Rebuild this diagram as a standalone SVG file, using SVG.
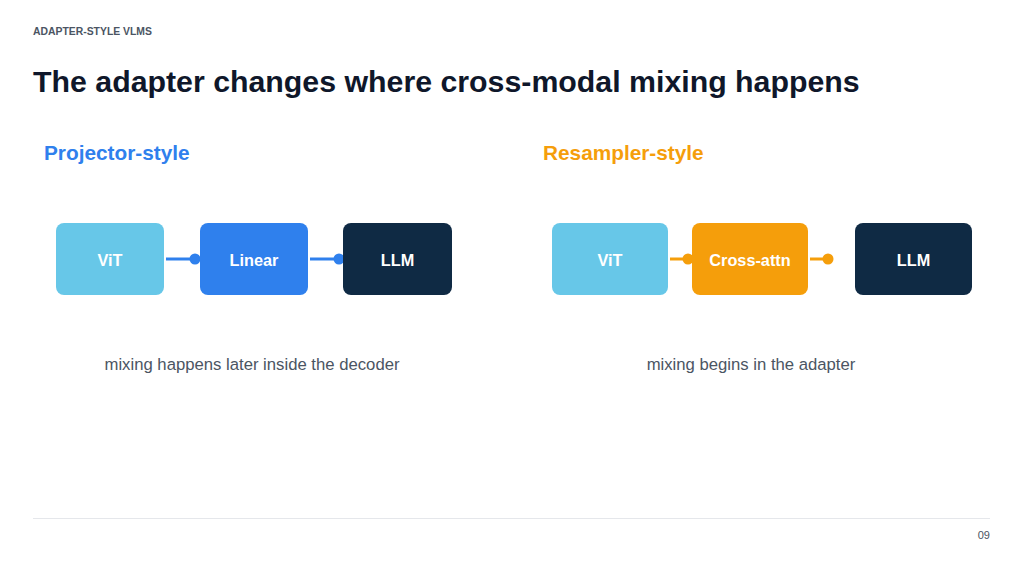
<svg xmlns="http://www.w3.org/2000/svg" width="1024" height="575" viewBox="0 0 1024 575">
<style>
text{font-family:"Liberation Sans",Arial,sans-serif}
.lbl{font-size:16.3px;font-weight:bold;fill:#fff;text-anchor:middle}
.cap{font-size:16.7px;fill:#4b5563;text-anchor:middle}
.vit{fill:#67c7e8}
.llm{fill:#0f2a44}
.cb{stroke:#2f80ed;stroke-width:3}
.co{stroke:#f59e0b;stroke-width:3}
</style>
<rect width="1024" height="575" fill="#fff"/>
<text x="33" y="35" font-size="10.4" font-weight="bold" fill="#4b5563">ADAPTER-STYLE VLMS</text>
<text x="33" y="92" font-size="30.3" font-weight="bold" fill="#0f172a">The adapter changes where cross-modal mixing happens</text>
<text x="44" y="160" font-size="20.8" font-weight="bold" fill="#2f80ed">Projector-style</text>
<text x="543" y="160" font-size="20.8" font-weight="bold" fill="#f59e0b">Resampler-style</text>
<g id="connectors">
<line class="cb" x1="166" y1="259" x2="195" y2="259"/>
<circle cx="195" cy="259" r="5.5" fill="#2f80ed"/>
<line class="cb" x1="310" y1="259" x2="339" y2="259"/>
<circle cx="339" cy="259" r="5.5" fill="#2f80ed"/>
<line class="co" x1="670" y1="259" x2="688" y2="259"/>
<circle cx="688" cy="259" r="5.5" fill="#f59e0b"/>
<line class="co" x1="810" y1="259" x2="828" y2="259"/>
<circle cx="828" cy="259" r="5.5" fill="#f59e0b"/>
</g>
<g id="p-vit"><rect class="vit" x="56" y="223" width="108" height="72" rx="8"/><text class="lbl" x="110" y="265.5">ViT</text></g>
<g id="p-linear"><rect x="200" y="223" width="108" height="72" rx="8" fill="#2f80ed"/><text class="lbl" x="254" y="265.5">Linear</text></g>
<g id="p-llm"><rect class="llm" x="343" y="223" width="109" height="72" rx="8"/><text class="lbl" x="397.5" y="265.5">LLM</text></g>
<g id="r-vit"><rect class="vit" x="552" y="223" width="116" height="72" rx="8"/><text class="lbl" x="610" y="265.5">ViT</text></g>
<g id="r-xattn"><rect x="692" y="223" width="116" height="72" rx="8" fill="#f59e0b"/><text class="lbl" x="750" y="265.5">Cross-attn</text></g>
<g id="r-llm"><rect class="llm" x="855" y="223" width="117" height="72" rx="8"/><text class="lbl" x="913.5" y="265.5">LLM</text></g>
<text class="cap" x="252" y="370">mixing happens later inside the decoder</text>
<text class="cap" x="751" y="370">mixing begins in the adapter</text>
<line x1="33" y1="518.5" x2="990" y2="518.5" stroke="#e5e7eb" stroke-width="1"/>
<text x="990" y="539" font-size="11" fill="#4b5563" text-anchor="end">09</text>
</svg>
